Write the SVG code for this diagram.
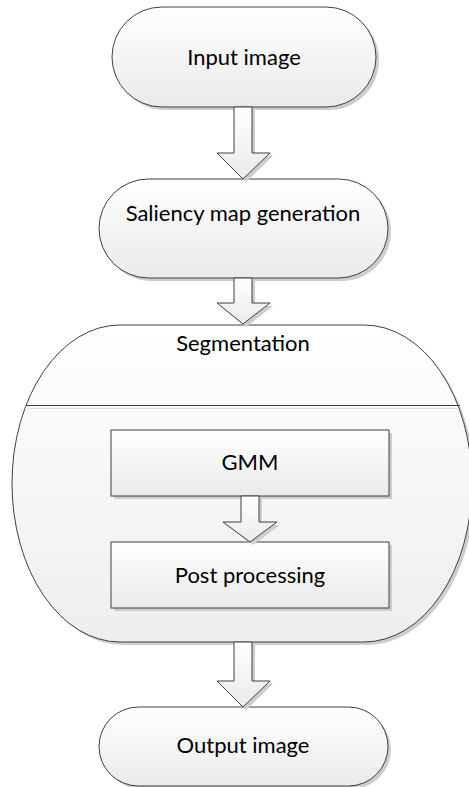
<svg xmlns="http://www.w3.org/2000/svg" width="469" height="787" viewBox="0 0 469 787">
  <defs>
    <linearGradient id="fillGrad" x1="0" y1="0" x2="0" y2="1">
      <stop offset="0" stop-color="#ffffff"/>
      <stop offset="1" stop-color="#eaeaea"/>
    </linearGradient>
    <linearGradient id="containerGrad" x1="0" y1="0" x2="0" y2="1">
      <stop offset="0" stop-color="#ffffff"/>
      <stop offset="1" stop-color="#eeeeee"/>
    </linearGradient>
  </defs>
  <style>
    .shape { fill: url(#fillGrad); stroke: #404040; stroke-width: 1; }
    .container { fill: url(#containerGrad); stroke: #404040; stroke-width: 1; }
    .shadow { fill: #cdcdcd; stroke: none; }
    .label { font-family: Lato, "Open Sans", "Liberation Sans", sans-serif; font-size: 22px; fill: #000000; text-anchor: middle; }
    .arrow { fill: url(#fillGrad); stroke: #404040; stroke-width: 1; stroke-linejoin: miter; }
  </style>

  <!-- Segmentation container (drawn first so inner steps sit on top) -->
  <g id="segmentation">
    <rect class="shadow" x="15" y="328" width="460" height="317" rx="108" ry="158.5"/>
    <rect class="container" x="12" y="325" width="460" height="317" rx="108" ry="158.5"/>
    <line x1="28" y1="408.5" x2="458" y2="408.5" stroke="#dddddd" stroke-width="1"/>
    <line x1="26" y1="405.5" x2="460" y2="405.5" stroke="#404040" stroke-width="1"/>
    <text class="label" x="243" y="351">Segmentation</text>
  </g>

  <g id="input-image">
    <rect class="shadow" x="115" y="10" width="264" height="100" rx="50" ry="50"/>
    <rect class="shape" x="112" y="7" width="264" height="100" rx="50" ry="50"/>
    <text class="label" x="244" y="65">Input image</text>
  </g>

  <g id="saliency-map">
    <rect class="shadow" x="102" y="182" width="289" height="99" rx="49.5" ry="49.5"/>
    <rect class="shape" x="99" y="179" width="289" height="99" rx="49.5" ry="49.5"/>
    <text class="label" x="243" y="221">Saliency map generation</text>
  </g>

  <g id="gmm">
    <rect class="shadow" x="114" y="433" width="278" height="66"/>
    <rect class="shape" x="111" y="430" width="278" height="66"/>
    <text class="label" x="250" y="470">GMM</text>
  </g>

  <g id="post-processing">
    <rect class="shadow" x="114" y="545" width="278" height="66"/>
    <rect class="shape" x="111" y="542" width="278" height="66"/>
    <text class="label" x="250" y="583">Post processing</text>
  </g>

  <g id="output-image">
    <rect class="shadow" x="102" y="710" width="289" height="79" rx="39.5" ry="39.5"/>
    <rect class="shape" x="99" y="707" width="289" height="79" rx="39.5" ry="39.5"/>
    <text class="label" x="243" y="753">Output image</text>
  </g>

  <!-- Block arrows between steps -->
  <g id="connectors">
    <g transform="translate(3,3)">
      <polygon class="shadow" points="234,107 252,107 252,153 270,153 243,179 217,153 234,153"/>
      <polygon class="shadow" points="234,278 252,278 252,303 270,303 243,324 217,303 234,303"/>
      <polygon class="shadow" points="241,496 259,496 259,522 277,522 250,542 223,522 241,522"/>
      <polygon class="shadow" points="234,642 252,642 252,681 270,681 243,707 217,681 234,681"/>
    </g>
    <polygon class="arrow" points="234,107 252,107 252,153 270,153 243,179 217,153 234,153"/>
    <polygon class="arrow" points="234,278 252,278 252,303 270,303 243,324 217,303 234,303"/>
    <polygon class="arrow" points="241,496 259,496 259,522 277,522 250,542 223,522 241,522"/>
    <polygon class="arrow" points="234,642 252,642 252,681 270,681 243,707 217,681 234,681"/>
  </g>
</svg>
